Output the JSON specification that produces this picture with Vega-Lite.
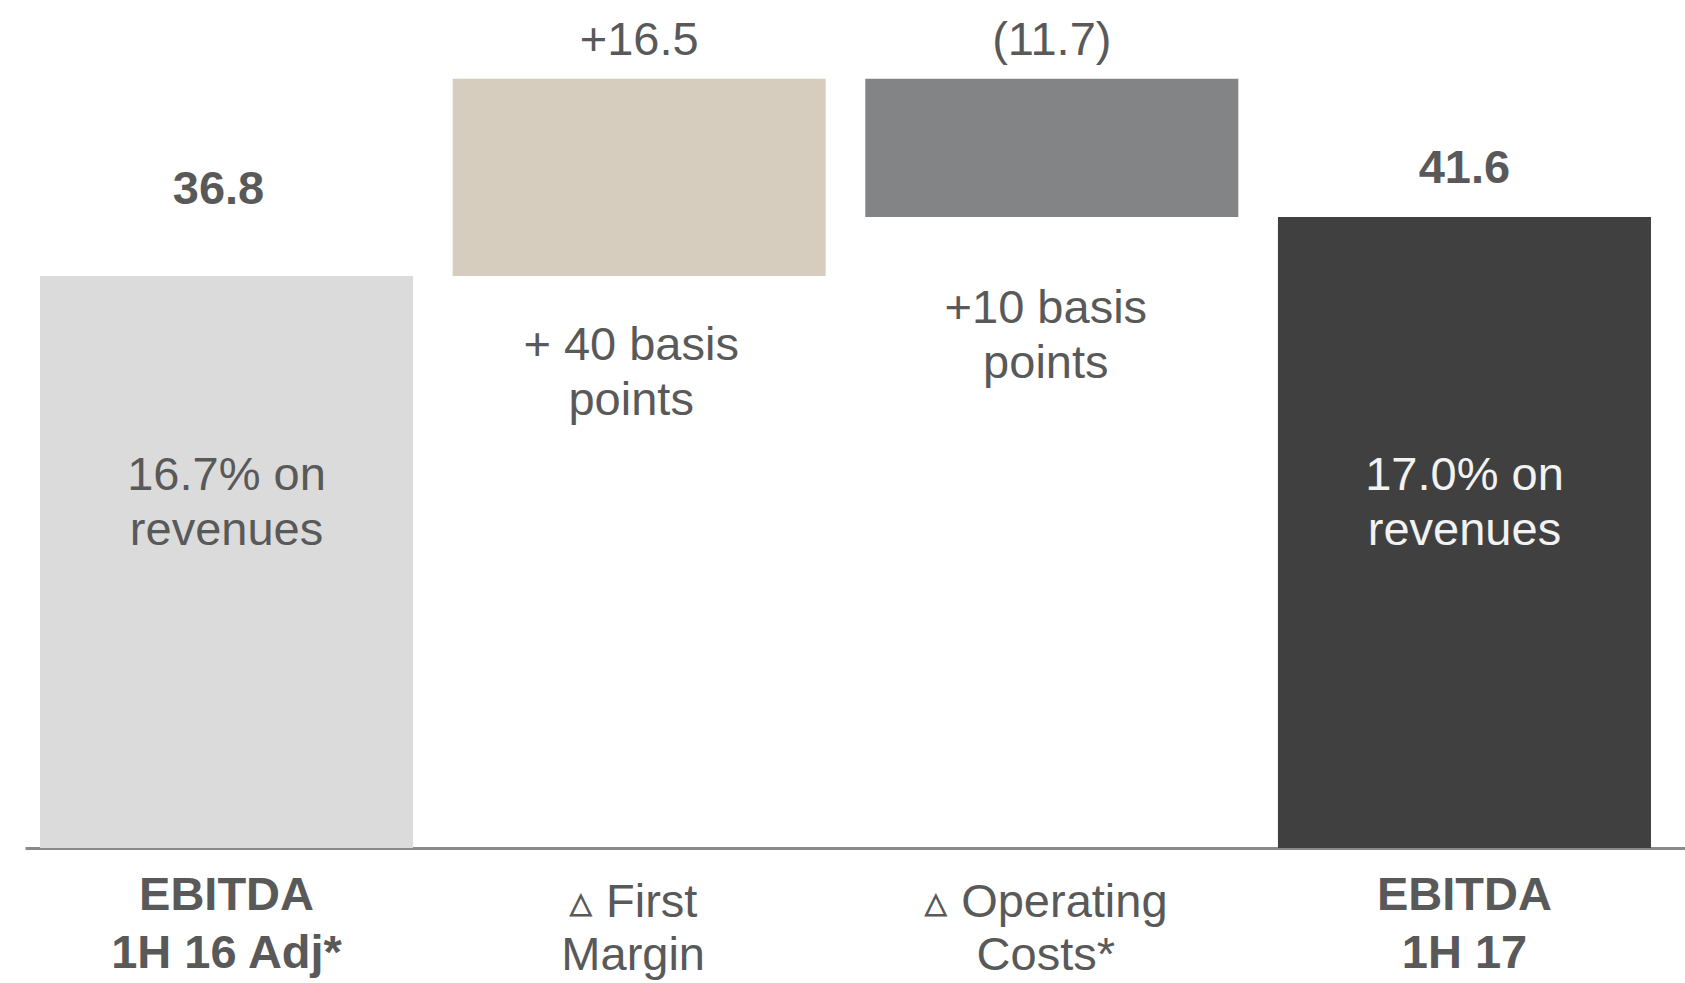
{
  "$schema": "https://vega.github.io/schema/vega-lite/v6.json",
  "width": 1660,
  "height": 848,
  "autosize": {"type": "none"},
  "padding": {"left": 25, "top": 0, "right": 0, "bottom": 135},
  "background": "#ffffff",
  "config": {
    "view": {"stroke": null},
    "text": {"font": "Liberation Sans", "fontSize": 47, "color": "#595959", "lineBreak": "\n"}
  },
  "data": {
    "values": [
      {"cat": "a", "type": "total", "xlabel": "EBITDA\n1H 16 Adj*", "lo": 0, "hi": 36.8, "value": "36.8", "note": "16.7% on\nrevenues"},
      {"cat": "b", "type": "delta", "xlabel": "▵ First\nMargin", "lo": 36.8, "hi": 53.3, "value": "+16.5", "note": "+ 40 basis\npoints"},
      {"cat": "c", "type": "delta", "xlabel": "▵ Operating\nCosts*", "lo": 41.6, "hi": 53.3, "value": "(11.7)", "note": "+10 basis\npoints"},
      {"cat": "d", "type": "total", "xlabel": "EBITDA\n1H 17", "lo": 0, "hi": 41.6, "value": "41.6", "note": "17.0% on\nrevenues"}
    ]
  },
  "encoding": {
    "x": {
      "field": "cat",
      "type": "nominal",
      "sort": ["a", "b", "c", "d"],
      "scale": {"paddingInner": 0.096, "paddingOuter": 0.0594, "align": 0.306},
      "axis": {"labels": false, "ticks": false, "title": null, "domainColor": "#8a8a8a", "domainWidth": 3, "grid": false}
    }
  },
  "layer": [
    {
      "mark": {"type": "bar"},
      "encoding": {
        "y": {"field": "lo", "type": "quantitative", "scale": {"type": "pow", "exponent": 0.8, "domain": [0, 60.2], "nice": false}, "axis": null},
        "y2": {"field": "hi"},
        "color": {"field": "cat", "type": "nominal", "scale": {"domain": ["a", "b", "c", "d"], "range": ["#dbdbdb", "#d6cdbf", "#838486", "#404040"]}, "legend": null}
      }
    },
    {
      "transform": [{"filter": "datum.cat == 'a'"}],
      "mark": {"type": "text", "fontWeight": "bold", "baseline": "alphabetic", "dy": -72, "dx": -8},
      "encoding": {
        "y": {"field": "hi", "type": "quantitative", "scale": {"type": "pow", "exponent": 0.8, "domain": [0, 60.2], "nice": false}, "axis": null},
        "text": {"field": "value"}
      }
    },
    {
      "transform": [{"filter": "datum.cat == 'd'"}],
      "mark": {"type": "text", "fontWeight": "bold", "baseline": "alphabetic", "dy": -34},
      "encoding": {
        "y": {"field": "hi", "type": "quantitative", "scale": {"type": "pow", "exponent": 0.8, "domain": [0, 60.2], "nice": false}, "axis": null},
        "text": {"field": "value"}
      }
    },
    {
      "transform": [{"filter": "datum.type == 'delta'"}],
      "mark": {"type": "text", "baseline": "alphabetic", "dy": -24},
      "encoding": {
        "y": {"field": "hi", "type": "quantitative", "scale": {"type": "pow", "exponent": 0.8, "domain": [0, 60.2], "nice": false}, "axis": null},
        "text": {"field": "value"}
      }
    },
    {
      "transform": [{"filter": "datum.type == 'total'"}],
      "mark": {"type": "text", "baseline": "alphabetic", "dy": -358, "lineHeight": 55},
      "encoding": {
        "y": {"datum": 0, "type": "quantitative", "scale": {"type": "pow", "exponent": 0.8, "domain": [0, 60.2], "nice": false}, "axis": null},
        "text": {"field": "note"},
        "color": {"condition": {"test": "datum.cat == 'd'", "value": "#f2f2f2"}, "value": "#595959"}
      }
    },
    {
      "transform": [{"filter": "datum.cat == 'b'"}],
      "mark": {"type": "text", "baseline": "alphabetic", "dy": 84, "dx": -8, "lineHeight": 55},
      "encoding": {
        "y": {"field": "lo", "type": "quantitative", "scale": {"type": "pow", "exponent": 0.8, "domain": [0, 60.2], "nice": false}, "axis": null},
        "text": {"field": "note"}
      }
    },
    {
      "transform": [{"filter": "datum.cat == 'c'"}],
      "mark": {"type": "text", "baseline": "alphabetic", "dy": 106, "dx": -6, "lineHeight": 55},
      "encoding": {
        "y": {"field": "lo", "type": "quantitative", "scale": {"type": "pow", "exponent": 0.8, "domain": [0, 60.2], "nice": false}, "axis": null},
        "text": {"field": "note"}
      }
    },
    {
      "transform": [{"filter": "datum.type == 'total'"}],
      "mark": {"type": "text", "fontWeight": "bold", "baseline": "alphabetic", "dy": 62, "lineHeight": 58},
      "encoding": {
        "y": {"datum": 0, "type": "quantitative", "scale": {"type": "pow", "exponent": 0.8, "domain": [0, 60.2], "nice": false}, "axis": null},
        "text": {"field": "xlabel"}
      }
    },
    {
      "transform": [{"filter": "datum.type == 'delta'"}],
      "mark": {"type": "text", "baseline": "alphabetic", "dy": 69, "dx": -6, "lineHeight": 53},
      "encoding": {
        "y": {"datum": 0, "type": "quantitative", "scale": {"type": "pow", "exponent": 0.8, "domain": [0, 60.2], "nice": false}, "axis": null},
        "text": {"field": "xlabel"}
      }
    }
  ]
}
